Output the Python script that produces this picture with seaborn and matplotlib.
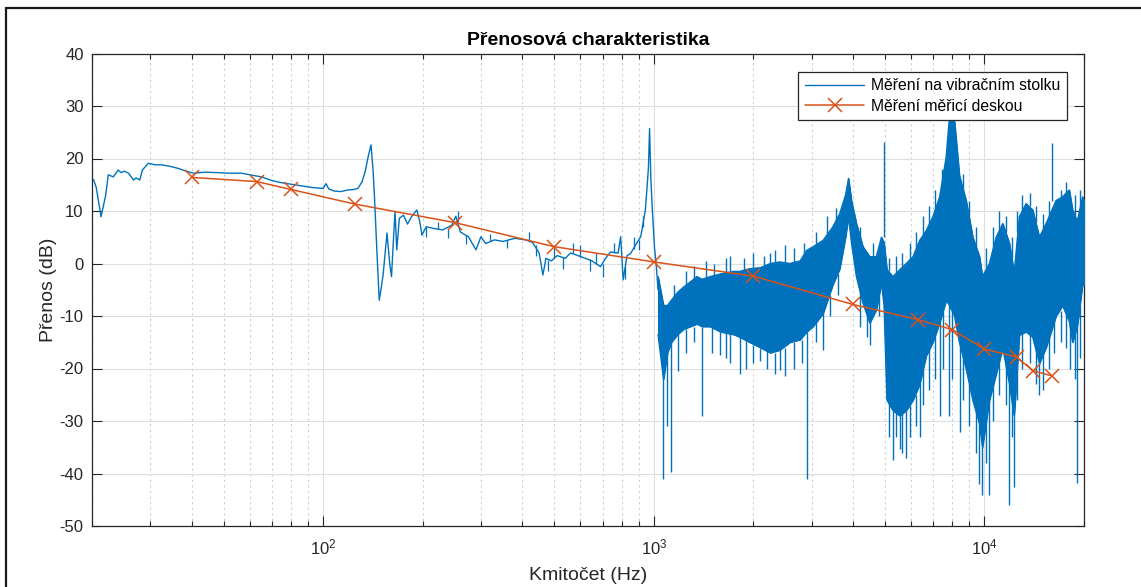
import numpy as np
import pandas as pd
import matplotlib
matplotlib.use("Agg")
import matplotlib.pyplot as plt
import seaborn as sns
from matplotlib.lines import Line2D
from matplotlib.ticker import LogLocator, NullFormatter, FixedLocator, NullLocator

# ---------------- data ----------------
# vibration-table measurement, low/mid frequency part (single line)
lf_freq = [20.2, 20.6, 21.3, 22.0, 22.4, 23.2, 24.0, 24.5, 25.0, 25.8,
           26.7, 27.2, 27.9, 28.4, 29.6, 31.0, 32.4, 34.5, 36.5, 38.5,
           40.5, 44, 48, 52, 56.6, 60, 65, 70, 74.7, 80,
           85.8, 92, 100, 102, 104, 108, 113, 118.7, 124, 127.3,
           131, 134, 137, 139.6, 141.5, 143, 145.5, 147.8, 150, 152,
           154, 156, 159, 161, 163, 165, 167, 170, 175, 180,
           185, 192, 196, 199, 205, 215, 230, 245, 252, 260,
           275, 290, 300, 310, 330, 350, 380, 410, 430, 450,
           462, 472, 490, 510, 540, 560, 590, 620, 650, 690,
           715, 740, 780, 794, 808, 830, 851, 880, 913, 943,
           963, 971, 980, 990, 1005, 1018, 1030]
lf_db = [16.0, 14.5, 8.9, 13.0, 16.9, 16.5, 17.8, 17.3, 17.6, 17.2,
         15.9, 16.3, 15.9, 17.8, 19.1, 18.8, 18.8, 18.5, 18.1, 17.6,
         17.2, 17.4, 17.3, 17.2, 17.2, 16.9, 16.5, 15.8, 15.4, 15.1,
         14.8, 14.5, 14.3, 15.2, 14.2, 13.8, 13.7, 14.0, 14.1, 14.3,
         15.5, 17.5, 20.5, 22.6, 18.0, 12.7, 2.0, -7.0, -4.5, -1.9,
         2.0, 5.8, 0.0, -2.5, 4.0, 9.9, 2.6, 8.6, 9.2, 7.5,
         8.9, 10.2, 8.0, 5.4, 7.0, 6.7, 6.4, 7.3, 9.0, 6.0,
         5.1, 2.6, 5.1, 3.8, 4.5, 4.2, 4.8, 4.5, 4.0, 2.0,
         -2.2, 1.0, 0.5, 1.5, 1.0, 2.0, 1.5, 1.0, 0.5, -0.6,
         1.0, 2.2, 2.0, 5.1, -3.1, 1.5, 1.9, 3.5, 5.1, 10.2,
         18.0, 25.7, 16.0, 10.2, 3.0, -0.6, -5.0]

# high frequency part: dense noisy band (upper / lower envelope)
band_freq = [1030, 1070, 1100, 1130, 1180, 1230, 1290, 1350, 1400, 1480,
             1590, 1740, 1820, 1950, 2100, 2250, 2400, 2580, 2770, 2900,
             3030, 3250, 3480, 3650, 3800, 3880, 3960, 4100, 4290, 4500,
             4710, 4880, 4970, 5070, 5290, 5540, 5800, 6080, 6370, 6670,
             6980, 7320, 7660, 7840, 8120, 8400, 8800, 9220, 9660, 9860,
             10350, 10850, 11360, 11900, 12300, 12750, 13360, 13990, 14660, 15360,
             16460, 17230, 18050, 18470, 19080, 19800, 20000]
band_hi = [-2.5, -8, -8, -7, -5.5, -4.5, -3.5, -2.5, -3, -2.5,
           -2, -1.5, -1.5, -1, -0.8, 0, 0.3, 0, 0.5, 2.5,
           3.2, 4.4, 7, 9.5, 13, 16.2, 12, 7.6, 3.2, 1.3,
           1.3, 5, 4, -1.2, -2.5, -1.2, 0, 1.3, 4.4, 6.3,
           8.9, 12.7, 20.3, 28, 27, 16.7, 12, 5, 1.3, -2.5,
           0, 5, 7.6, 3.8, -1.8, 8.9, 11.4, 10.2, 5, 7.6,
           12, 12.7, 14, 10.2, 8, 12.7, 12]
band_lo = [-13.5, -22, -17, -15, -13.5, -12.5, -12, -11.5, -12, -12,
           -13, -13.5, -14, -15, -16, -17, -16.5, -15, -14.5, -13,
           -12, -9.5, -4, -1, 5, 9, 4, -2.5, -7.5, -11.3,
           -8.8, -3.7, -8, -26, -28, -29, -28, -26, -23, -17.5,
           -15, -11.3, -7, -8, -10, -15, -20, -26, -30.5, -35,
           -26, -21, -16, -23, -29, -13.6, -13, -14, -19, -16,
           -10, -8, -11, -15, -12, -4, -4]

# large isolated spikes sticking out of the band
spike_freq = [1068, 1100, 1129, 1180, 1401, 1440, 1590, 1824, 2096, 2246,
              2408, 2904, 3246, 4499, 4969, 5290, 5540, 5805, 6367, 7315,
              7800, 8406, 9658, 9862, 10350, 11897, 12317, 14657, 16004, 19080]
spike_base = [-13, -15, -14, -13, -12, -3, -13, -14, -16, -1,
              -16.5, -13, -9.5, -11, 5, -28, -29, -28, -23, -11,
              -8, -15, -30, -35, -26, -23, -29, -19, 12, -12]
spike_tip = [-41, -31, -39.7, -20.5, -29, 0.4, -17.5, -21, -18.5, 2,
             -20.3, -41, -16.5, -15.5, 23.2, -37.4, -35.4, -37, -33, -29,
             -29, -32, -42, -44, -44, -46, -42.5, -25, 22.9, -41.8]

# small spikes that make the band edges ragged (upper edge)
up_freq = [1150, 1250, 1320, 1520, 1650, 1700, 1880, 2000, 2150, 2320,
           2500, 2650, 2850, 3100, 3350, 3550, 4200, 4600, 5150, 5400,
           5650, 5950, 6200, 6500, 6800, 7100, 7450, 8600, 9000, 9400,
           10100, 10600, 11100, 11600, 12100, 12550, 13000, 13700, 14300, 15000,
           15700, 17000, 17600, 18800, 19500]
up_base = [-7, -4.5, -3, -2.5, -2, -1.5, -1.5, -1, -0.8, 0,
           0.3, 0, 1.5, 3.5, 5.5, 8, 5, 1.3, -1.5, -2,
           -0.5, 0.5, 2.5, 5.5, 7.5, 10, 14, 14, 9, 3,
           -1, 2.5, 6, 6, 1, 6, 10, 11, 8, 6,
           9, 12, 13, 9, 10]
up_tip = [-4, -1.5, -0.5, 0, 1, 1.5, 1, 2, 1.5, 2.5,
          3.5, 3, 4, 6, 9, 10.5, 7, 4, 1, 1.5,
          2, 4, 6, 9, 11, 14, 18, 17, 12, 7,
          3, 7, 10, 9, 5, 10, 13, 13.5, 11, 9.5,
          12, 14, 15.5, 13, 14]

# small spikes on the lower edge
dn_freq = [1250, 1320, 1500, 1650, 1700, 1900, 2000, 2200, 2320, 2500,
           2650, 2800, 3100, 3400, 3600, 4200, 4400, 4800, 5150, 5400,
           5650, 5950, 6200, 6500, 6800, 7100, 7500, 8000, 8600, 9000,
           9400, 10100, 10600, 11100, 11600, 12100, 12550, 13000, 13700, 14300,
           15000, 15700, 16200, 17000, 17600, 18200, 18800, 19500]
dn_base = [-12.5, -12, -12, -13, -13.5, -14.5, -15.5, -16.5, -17, -16,
           -15, -14.5, -11, -6, -2, -5, -9, -6, -26, -28.5,
           -28.5, -27, -25, -20, -16, -13, -9, -9, -17, -23,
           -28, -30, -23, -18, -19, -26, -20, -13.3, -13.5, -16,
           -17, -14, -11, -9, -9, -12, -13, -8]
dn_tip = [-17, -15, -17, -18, -19, -20, -19, -20, -21, -21.5,
          -20, -19, -15, -10, -6, -12, -14, -10, -33, -33,
          -36, -33, -31, -27, -24, -22, -20, -22, -26, -31,
          -36, -38, -30, -25, -27, -33, -26, -20, -19, -23,
          -24, -20, -17, -15, -16, -20, -22, -18]

# fuzz on the mid-frequency single line
fz_freq = [205, 222, 238, 256, 270, 320, 360, 420, 440, 480,
           500, 530, 570, 600, 640, 670, 700, 760, 820, 870, 900, 930]
fz_base = [7.0, 6.6, 6.5, 8.0, 5.5, 4.2, 4.4, 4.2, 3.5, 0.7,
           1.0, 1.2, 2.0, 1.3, 0.8, 0.0, 0.0, 2.0, -0.5, 2.8, 4.5, 7.0]
fz_tip = [5.0, 8.0, 4.8, 10.0, 3.8, 5.6, 3.0, 6.0, 1.5, -1.5,
          3.0, -1.0, 4.0, 3.5, -1.5, 2.0, -2.5, 4.0, -3.0, 5.0, 2.5, 9.0]

# measuring-board measurement
board_freq = [40, 63, 80, 125, 250, 500, 1000, 2000, 4000, 6300,
              8000, 10000, 12500, 14000, 16000]
board_db = [16.4, 15.6, 14.1, 11.3, 7.8, 3.2, 0.3, -2.4, -7.8, -10.7,
            -12.6, -16.3, -17.8, -20.4, -21.4]

y_ticks = [-50, -40, -30, -20, -10, 0, 10, 20, 30, 40]
title = "Přenosová charakteristika"
xlabel = "Kmitočet (Hz)"
ylabel = "Přenos (dB)"
labels = ["Měření na vibračním stolku", "Měření měřicí deskou"]

# ---------------- style ----------------
sns.set_style("ticks")
plt.rcParams['font.family'] = ['Liberation Sans', 'DejaVu Sans']
plt.rcParams['mathtext.fontset'] = 'custom'
plt.rcParams['mathtext.rm'] = 'Liberation Sans'
plt.rcParams['mathtext.it'] = 'Liberation Sans:italic'
plt.rcParams['mathtext.bf'] = 'Liberation Sans:bold'
plt.rcParams['mathtext.default'] = 'regular'
plt.rcParams['axes.unicode_minus'] = False

BLUE = '#0072BD'
ORANGE = '#D95319'
AX = '#262626'

W, H = 1141, 587
fig = plt.figure(figsize=(W / 100, H / 100), dpi=100)
ax = fig.add_axes([92 / W, 1 - 526 / H, 992 / W, 472.5 / H])

# blue measurement
lf = pd.DataFrame({"f": lf_freq, "db": lf_db})
sns.lineplot(data=lf, x="f", y="db", sort=False, estimator=None,
             color=BLUE, lw=1.0, ax=ax, zorder=3)
blue_handle = ax.lines[-1]
ax.fill_between(band_freq, band_lo, band_hi, color=BLUE, lw=0.8, zorder=3)
ax.plot(band_freq, band_hi, color=BLUE, lw=1.0, zorder=3)
ax.plot(band_freq, band_lo, color=BLUE, lw=1.0, zorder=3)
ax.vlines(spike_freq, spike_base, spike_tip, color=BLUE, lw=1.0, zorder=3)
ax.vlines(up_freq, up_base, up_tip, color=BLUE, lw=1.0, zorder=3)
ax.vlines(dn_freq, dn_base, dn_tip, color=BLUE, lw=1.0, zorder=3)
ax.vlines(fz_freq, fz_base, fz_tip, color=BLUE, lw=0.9, zorder=3)

# orange measurement
bd = pd.DataFrame({"f": board_freq, "db": board_db})
sns.lineplot(data=bd, x="f", y="db", estimator=None, color=ORANGE,
             lw=1.1, marker='x', markersize=10, markeredgewidth=1.1,
             markeredgecolor=ORANGE, ax=ax, zorder=4)
orange_handle = ax.lines[-1]

ax.set_xscale('log')
ax.set_xlim(20, 20000)
ax.set_ylim(-50, 40)
ax.yaxis.set_major_locator(FixedLocator(y_ticks))
ax.yaxis.set_minor_locator(NullLocator())
ax.xaxis.set_major_locator(LogLocator(base=10))
ax.xaxis.set_minor_locator(LogLocator(base=10, subs=range(2, 10)))
ax.xaxis.set_minor_formatter(NullFormatter())

ax.set_axisbelow(True)
ax.grid(True, which='major', color='#dedede', lw=0.8)
ax.grid(True, which='minor', axis='x', color='#cdcdcd', lw=0.8, ls=(0, (2, 3)))

ax.tick_params(which='both', direction='in', top=True, right=True,
               color=AX, labelcolor=AX, labelsize=12, width=0.8)
ax.tick_params(which='major', length=7)
ax.tick_params(which='minor', length=3.6)
ax.tick_params(axis='x', pad=8)
ax.tick_params(axis='y', pad=6)
for s in ax.spines.values():
    s.set_color(AX)
    s.set_linewidth(0.9)

ax.set_title(title, fontweight='bold', fontsize=14, color='black', pad=6)
ax.set_xlabel(xlabel, fontsize=14, color=AX)
ax.set_ylabel(ylabel, fontsize=14, color=AX)
ax.xaxis.set_label_coords(0.5, (526 - 567) / 472.5)
ax.yaxis.set_label_coords((57 - 92) / 992, 0.5)

leg = ax.legend([blue_handle, orange_handle], labels, loc='upper right',
                bbox_to_anchor=((1067 - 92) / 992, (526 - 72) / 472.5),
                fontsize=11.3, frameon=True, fancybox=False, framealpha=1,
                edgecolor=AX, handlelength=3.8, borderpad=0.4,
                labelspacing=0.35, handletextpad=0.45, borderaxespad=0)
leg.get_frame().set_linewidth(0.9)
leg.set_zorder(10)
for t in leg.get_texts():
    t.set_color('black')

# outer window frame (partly cropped in the reference)
fig.add_artist(Line2D([6 / W, 6 / W], [0, 1 - 8 / H], transform=fig.transFigure,
                      color='#1a1a1a', lw=1.6))
fig.add_artist(Line2D([6 / W, 1], [1 - 8 / H, 1 - 8 / H], transform=fig.transFigure,
                      color='#1a1a1a', lw=1.6))

fig.savefig('out.png', dpi=100)
